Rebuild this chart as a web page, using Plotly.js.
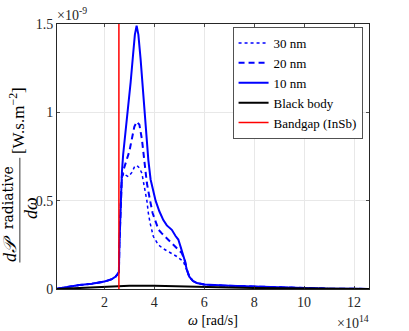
<!DOCTYPE html>
<html>
<head>
<meta charset="utf-8">
<script src="https://cdn.plot.ly/plotly-3.0.1.min.js"></script>
<style>
html,body{margin:0;padding:0;background:#fff;}
#chart{width:409px;height:331px;}
</style>
</head>
<body>
<div id="chart"></div>
<script>
// omega in units of 1e14 rad/s, power in units of 1e-9 W.s.m^-2
const x30 = [0.1,0.5,1,1.5,2,2.3,2.45,2.55,2.58,2.6,2.63,2.66,2.7,2.77,2.85,2.96,3.1,3.2,3.3,3.4,3.5,3.6,3.7,3.76,3.83,3.96,4.16,4.36,4.56,4.9,5.16,5.3,5.4,5.55,5.7,6.0,6.5,7,8,9,10,11,12,12.6];
const y30 = [0.002,0.012,0.022,0.03,0.042,0.056,0.07,0.088,0.096,0.25,0.41,0.55,0.62,0.656,0.645,0.636,0.66,0.69,0.70,0.685,0.656,0.58,0.5,0.43,0.373,0.297,0.25,0.228,0.213,0.184,0.156,0.11,0.07,0.045,0.034,0.025,0.02,0.018,0.014,0.009,0.004,0.002,0.001,0.0005];
const x20 = [0.1,0.5,1,1.5,2,2.3,2.45,2.55,2.58,2.6,2.63,2.66,2.7,2.8,2.9,3.0,3.1,3.2,3.3,3.4,3.5,3.6,3.7,3.83,3.93,4.03,4.17,4.3,4.43,4.63,4.83,5.0,5.1,5.23,5.3,5.4,5.55,5.7,6.0,6.5,7,8,9,10,11,12,12.6];
const y20 = [0.002,0.012,0.022,0.03,0.042,0.056,0.07,0.088,0.096,0.25,0.41,0.55,0.64,0.69,0.73,0.78,0.85,0.92,0.947,0.93,0.85,0.73,0.6,0.5,0.43,0.39,0.335,0.315,0.297,0.27,0.24,0.215,0.203,0.16,0.11,0.07,0.045,0.034,0.025,0.02,0.018,0.014,0.009,0.004,0.002,0.001,0.0005];
const x10 = [0.1,0.5,1,1.5,2,2.3,2.45,2.55,2.58,2.6,2.63,2.66,2.7,2.75,2.85,2.95,3.05,3.15,3.22,3.29,3.36,3.45,3.55,3.6,3.7,3.76,3.85,3.95,4.05,4.2,4.36,4.5,4.7,4.85,4.96,5.05,5.1,5.2,5.3,5.4,5.55,5.7,6.0,6.5,7,8,9,10,11,12,12.6];
const y10 = [0.002,0.012,0.022,0.03,0.042,0.056,0.07,0.088,0.096,0.25,0.41,0.55,0.66,0.76,0.9,1.0,1.17,1.33,1.44,1.49,1.44,1.3,1.1,1.0,0.82,0.73,0.62,0.55,0.5,0.44,0.39,0.36,0.335,0.3,0.28,0.24,0.22,0.17,0.11,0.07,0.045,0.034,0.025,0.02,0.018,0.014,0.009,0.004,0.002,0.001,0.0005];
const xbb = [0.1,0.5,1,2,3,4,5,6,7,8,9,10,11,12,12.6];
const ybb = [0.0,0.003,0.007,0.014,0.018,0.019,0.017,0.013,0.009,0.006,0.004,0.002,0.001,0.0006,0.0005];
const bandgap = 2.58;
const xRange = [0.1, 12.6];
const yRange = [0, 1.5];
const xTicks = [2,4,6,8,10,12];
const yTicks = [0,0.5,1,1.5];
const names = ['30 nm','20 nm','10 nm','Black body','Bandgap (InSb)'];

const serif = '"Liberation Serif", "DejaVu Serif", serif';
const wideSerif = '"DejaVu Serif", "Liberation Serif", serif';
const axisCol = '#262626';

const traces = [
  {x:x30, y:y30, name:names[0], mode:'lines', line:{color:'#0000ff', width:1.5, dash:'dot'}},
  {x:x20, y:y20, name:names[1], mode:'lines', line:{color:'#0000ff', width:2, dash:'6px,4px'}},
  {x:x10, y:y10, name:names[2], mode:'lines', line:{color:'#0000ff', width:2}},
  {x:xbb, y:ybb, name:names[3], mode:'lines', line:{color:'#000000', width:2}},
  {x:[bandgap,bandgap], y:yRange, name:names[4], mode:'lines', line:{color:'#ff0000', width:1.5}}
];

const axisCommon = {
  showline:true, mirror:'ticks', linecolor:axisCol, linewidth:1,
  ticks:'inside', ticklen:3, tickcolor:axisCol, tickwidth:0.8,
  showgrid:true, gridcolor:'#e8e8e8', gridwidth:1, zeroline:false,
  tickfont:{family:serif, size:14, color:axisCol}
};

const layout = {
  width:409, height:331,
  font:{family:serif},
  paper_bgcolor:'#ffffff', plot_bgcolor:'#ffffff',
  margin:{l:57, r:40, t:24, b:42},
  showlegend:true,
  legend:{x:0.98, y:0.988, xanchor:'right', yanchor:'top',
    bgcolor:'#ffffff', bordercolor:axisCol, borderwidth:0.8,
    font:{family:serif, size:13, color:'#000'}, tracegroupgap:0, itemwidth:30},
  xaxis:Object.assign({}, axisCommon, {range:xRange, tickvals:xTicks, ticktext:xTicks.map(String)}),
  yaxis:Object.assign({}, axisCommon, {range:yRange, tickvals:yTicks, ticktext:yTicks.map(String)}),
  shapes:[
    {type:'line', xref:'paper', yref:'paper', x0:-0.119, x1:-0.119, y0:0.10, y1:0.495, line:{color:'#000', width:0.8}}
  ],
  annotations:[
    {xref:'paper', yref:'paper', x:-0.150, y:0.152, xanchor:'center', yanchor:'middle', textangle:-90, showarrow:false,
     text:'<i>d𝒫</i>', font:{family:serif, size:18, color:'#000'}},
    {xref:'paper', yref:'paper', x:-0.158, y:0.345, xanchor:'center', yanchor:'middle', textangle:-90, showarrow:false,
     text:'radiative', font:{family:wideSerif, size:14, color:'#000'}},
    {xref:'paper', yref:'paper', x:-0.083, y:0.306, xanchor:'center', yanchor:'middle', textangle:-90, showarrow:false,
     text:'<i>dω</i>', font:{family:serif, size:18, color:'#000'}},
    {xref:'paper', yref:'paper', x:-0.128, y:0.634, xanchor:'center', yanchor:'middle', textangle:-90, showarrow:false,
     text:'[W.s.m<sup>−2</sup>]', font:{family:serif, size:17, color:'#000'}},
    {xref:'paper', yref:'paper', x:0.5, y:-0.117, xanchor:'center', yanchor:'middle', showarrow:false,
     text:'<i>ω</i> [rad/s]', font:{family:serif, size:14, color:'#000'}},
    {xref:'paper', yref:'paper', x:1.005, y:-0.125, xanchor:'right', yanchor:'middle', showarrow:false,
     text:'×10<sup>14</sup>', font:{family:serif, size:14, color:axisCol}},
    {xref:'paper', yref:'paper', x:-0.005, y:0.995, xanchor:'left', yanchor:'bottom', showarrow:false,
     text:'×10<sup>-9</sup>', font:{family:serif, size:14, color:axisCol}}
  ]
};

Plotly.newPlot('chart', traces, layout, {displayModeBar:false, staticPlot:true});
</script>
</body>
</html>
